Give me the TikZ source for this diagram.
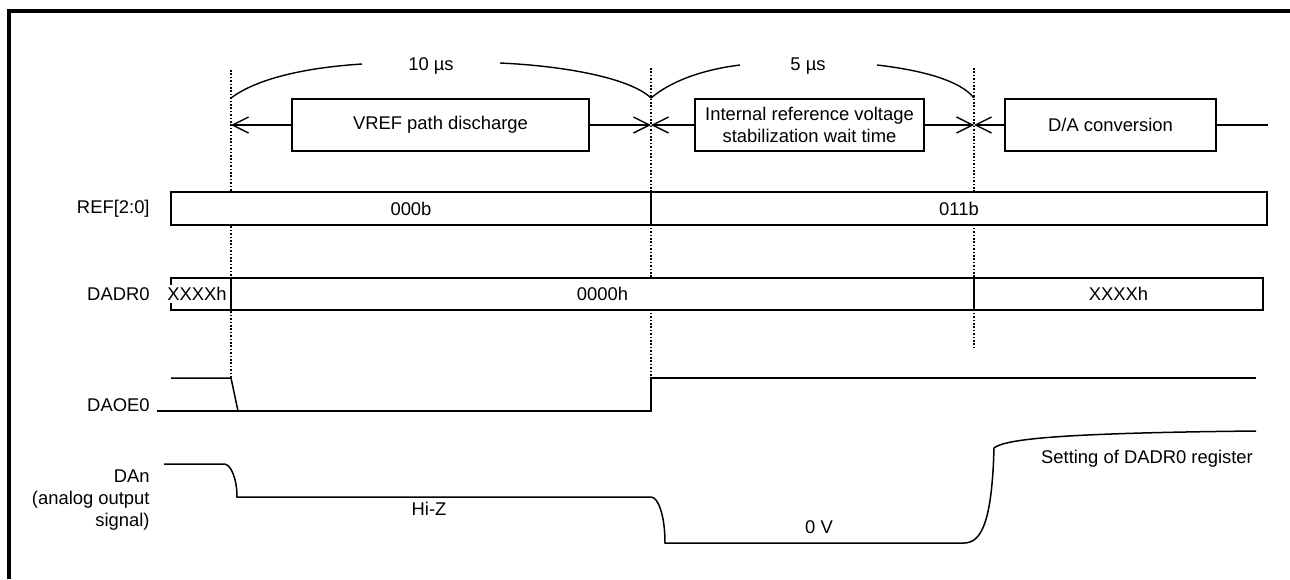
\documentclass[tikz,border=0pt]{standalone}
\usepackage{fontspec}
\setmainfont{Liberation Sans}
\usetikzlibrary{arrows.meta, positioning, calc}

\begin{document}
\begin{tikzpicture}[x=0.5pt, y=-0.5pt,
  font=\fontsize{9.2}{11}\selectfont,
  >={Straight Barb[length=8pt, width=8pt]},
  tbox/.style={draw, fill=white, line width=0.7pt, minimum height=26pt,
               inner sep=0pt, align=center},
  bus/.style={draw, fill=white, line width=0.7pt, inner sep=0pt},
  sig/.style={line width=0.75pt},
  guide/.style={line width=0.8pt, dash pattern=on 0.8pt off 0.9pt},
  span/.style={line width=0.7pt},
  lbl/.style={anchor=east, inner sep=0pt}]

  \useasboundingbox (0,0) rectangle (1290,579);
  \draw[line width=1.75pt] (9,579) -- (9,11) -- (1290,11);

  % time marks
  \coordinate (t0) at (231,125);
  \coordinate (t1) at (651,125);
  \coordinate (t2) at (974,125);
  \coordinate (tend) at (1268,125);

  \draw[guide] (231,70) -- (231,378);
  \draw[guide] (651,68) -- (651,378);
  \draw[guide] (974,68) -- (974,348);

  % phases
  \draw[span, <->] (t0) -- (t1);
  \draw[span, <->] (t1) -- (t2);
  \draw[span, <-] (t2) -- (tend);
  \node[tbox, minimum width=148.5pt] (dis)  at (440.5,125) {VREF path discharge};
  \node[tbox, minimum width=114.5pt] (stab) at (809.5,125)
       {Internal reference voltage\\stabilization wait time};
  \node[tbox, minimum width=105.5pt] (conv) at (1110.5,125) {D/A conversion};

  % durations
  \node (d10) at (431,66) {10 µs};
  \node (d5)  at (808,66) {5 µs};
  \draw[span] (231,98) .. controls (255,80) and (300,68) .. (362,64);
  \draw[span] (500,63) .. controls (565,66) and (630,78) .. (651,98);
  \draw[span] (651,98) .. controls (670,82) and (700,70) .. (740,65);
  \draw[span] (877,65) .. controls (920,70) and (960,80) .. (974,98);

  % signal names
  \node[lbl] (lref)  at (150,208.5) {REF[2:0]};
  \node[lbl] (ldadr) at (150,294) {DADR0};
  \node[lbl, anchor=base east] (ldaoe) at (150,411) {DAOE0};
  \node[lbl, align=right] (ldan) at (150,500) {DAn\\(analog output\\signal)};

  % REF[2:0]
  \node[bus, minimum width=240pt, minimum height=16.5pt] (ref0) at (411,208.5) {000b};
  \node[bus, minimum width=308pt, minimum height=16.5pt] (ref3) at (959,208.5) {011b};

  % DADR0
  \node[bus, minimum width=30pt, minimum height=16pt] (dadrA) at (201,294) {};
  \node[fill=white, inner sep=1pt] (dadrAt) at (197,294) {XXXXh};
  \node[bus, minimum width=371.5pt, minimum height=16pt] (dadrB) at (602.5,294) {0000h};
  \node[bus, minimum width=144.5pt, minimum height=16pt] (dadrC) at (1118.5,294) {XXXXh};

  % DAOE0
  \draw[sig] (171,378) -- (231,378) -- (238,411);
  \draw[sig] (157,411) -- (651,411) -- (651,378) -- (1256,378);

  % DAn
  \draw[sig] (164,464) -- (224,464) .. controls (231,464) and (237,479) .. (237,497)
    -- (651,497) .. controls (658,497) and (665,515) .. (665,543)
    -- (964,543) .. controls (982,543) and (992,520) .. (994,448)
    .. controls (1005,439) and (1060,433) .. (1256,431);
  \node (hiz) at (429,509) {Hi-Z};
  \node (zero) at (819,527) {0 V};
  \node (dset) at (1147,459) {Setting of DADR0 register};
\end{tikzpicture}
\end{document}
